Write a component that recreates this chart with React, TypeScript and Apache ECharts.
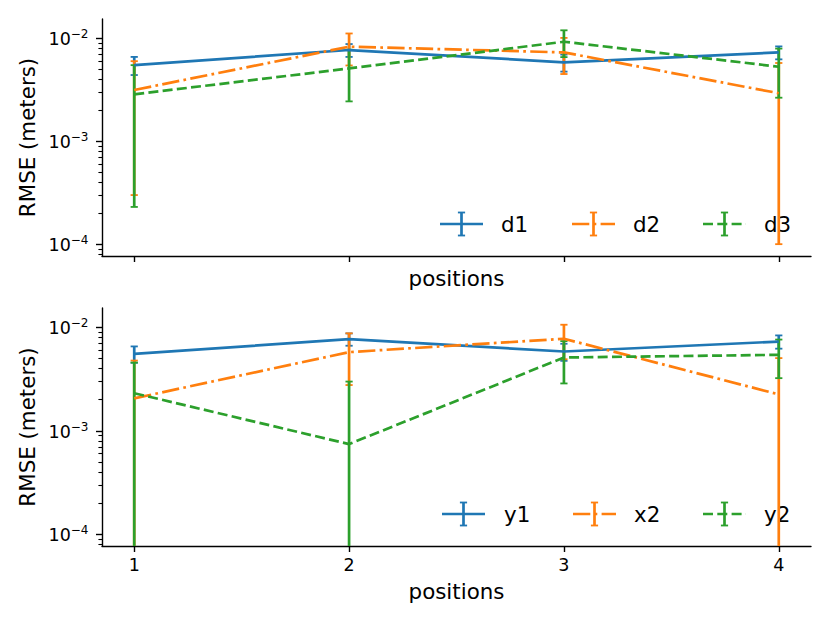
import React, { useEffect, useRef } from 'react';
import * as echarts from 'echarts';

// ---------------- data ----------------
const POSITIONS = [1, 2, 3, 4];

const TOP_NAMES = ['d1', 'd2', 'd3'];
const D1 = [5.5e-3, 7.7e-3, 5.85e-3, 7.3e-3];
const D1_ERR = [1.1e-3, 1.1e-3, 1.1e-3, 1.05e-3];
const D2 = [3.15e-3, 8.3e-3, 7.3e-3, 2.93e-3];
const D2_ERR = [2.85e-3, 2.85e-3, 2.8e-3, 2.83e-3];
const D3 = [2.86e-3, 5.1e-3, 9.27e-3, 5.3e-3];
const D3_ERR = [2.63e-3, 2.66e-3, 2.7e-3, 2.65e-3];

const BOTTOM_NAMES = ['y1', 'x2', 'y2'];
const Y1 = [5.55e-3, 7.7e-3, 5.85e-3, 7.3e-3];
const Y1_ERR = [1.0e-3, 1.05e-3, 1.1e-3, 1.07e-3];
const X2 = [2.06e-3, 5.77e-3, 7.77e-3, 2.25e-3];
const X2_ERR = [2.72e-3, 3.0e-3, 2.85e-3, 2.8e-3];
const Y2 = [2.31e-3, 7.43e-4, 5.12e-3, 5.43e-3];
const Y2_ERR = [2.26e-3, 2.25e-3, 2.25e-3, 2.2e-3];

const MAJOR_TICKS = [1e-4, 1e-3, 1e-2];
const MINOR_TICKS = [
  8e-5, 9e-5,
  2e-4, 3e-4, 4e-4, 5e-4, 6e-4, 7e-4, 8e-4, 9e-4,
  2e-3, 3e-3, 4e-3, 5e-3, 6e-3, 7e-3, 8e-3, 9e-3,
];

const X_TITLE = 'positions';
const Y_TITLE = 'RMSE (meters)';

// ---------------- styles ----------------
const COLORS = ['#1f77b4', '#ff7f0e', '#2ca02c'];
const DASHES: any[] = ['solid', [17.3, 4.3, 2.7, 4.3], [10, 4.3]];
const FONT = 'DejaVu Sans';
const Y_MIN = Math.pow(10, -4.115);
const Y_MAX = Math.pow(10, -1.812);
const LW = 2.7;
const CAP_HALF = 3.6;
const CAP_W = 1.8;

const fmtPow = (v: number) => {
  const e = Math.round(Math.log10(v));
  const s = e < 0 ? '\u2212' + String(-e) : String(e);
  return '{b|10}{s|' + s + '}';
};

const PANELS = [
  { names: TOP_NAMES, vals: [D1, D2, D3], errs: [D1_ERR, D2_ERR, D3_ERR] },
  { names: BOTTOM_NAMES, vals: [Y1, X2, Y2], errs: [Y1_ERR, X2_ERR, Y2_ERR] },
];

const GRIDS = [
  { left: 102, top: 19, width: 709, height: 237 },
  { left: 102, top: 308, width: 709, height: 238 },
];

// legend layout (pixel positions of each entry)
const LEGEND_LAYOUT = [
  { y: 224, lineX: [440, 572, 703], textX: [501, 633, 764] },
  { y: 514, lineX: [442, 573, 703], textX: [504, 634, 764] },
];
const HANDLE_LEN = 43;

function errRender(color: string) {
  return (params: any, api: any) => {
    const x = api.value(0);
    const lo = api.value(1);
    const hi = api.value(2);
    const hasLoCap = api.value(3) > 0;
    const pLo = api.coord([x, lo]);
    const pHi = api.coord([x, hi]);
    const children: any[] = [
      { type: 'line', shape: { x1: pLo[0], y1: pLo[1], x2: pHi[0], y2: pHi[1] }, style: { stroke: color, lineWidth: LW } },
      { type: 'line', shape: { x1: pHi[0] - CAP_HALF, y1: pHi[1], x2: pHi[0] + CAP_HALF, y2: pHi[1] }, style: { stroke: color, lineWidth: CAP_W } },
    ];
    if (hasLoCap) {
      children.push({ type: 'line', shape: { x1: pLo[0] - CAP_HALF, y1: pLo[1], x2: pLo[0] + CAP_HALF, y2: pLo[1] }, style: { stroke: color, lineWidth: CAP_W } });
    }
    return { type: 'group', children };
  };
}

function buildOption() {
  const axisLineStyle = { color: '#000', width: 1.4 };
  const xAxis = GRIDS.map((_, i) => ({
    type: 'value',
    gridIndex: i,
    min: 0.85,
    max: 4.15,
    axisLine: { show: true, onZero: false, lineStyle: axisLineStyle },
    axisTick: { show: true, length: 6, lineStyle: axisLineStyle, customValues: POSITIONS },
    axisLabel: { show: i === 1, customValues: POSITIONS, margin: 10, color: '#000', fontSize: 17.5, fontFamily: FONT },
    splitLine: { show: false },
    name: X_TITLE,
    nameLocation: 'middle',
    nameGap: i === 0 ? 12 : 35,
    nameTextStyle: { fontSize: 21.4, color: '#000', fontFamily: FONT },
  }));
  const yAxis: any[] = [];
  GRIDS.forEach((_, i) => {
    yAxis.push({
      type: 'log',
      logBase: 10,
      gridIndex: i,
      position: 'left',
      min: Y_MIN,
      max: Y_MAX,
      axisLine: { show: true, lineStyle: axisLineStyle },
      axisTick: { show: true, length: 6, lineStyle: axisLineStyle, customValues: MAJOR_TICKS },
      axisLabel: {
        customValues: MAJOR_TICKS,
        formatter: fmtPow,
        margin: 13.5,
        color: '#000',
        fontFamily: FONT,
        rich: {
          b: { fontSize: 17.5, lineHeight: 20, verticalAlign: 'bottom', color: '#000', fontFamily: FONT },
          s: { fontSize: 12, lineHeight: 13.4, verticalAlign: 'top', color: '#000', fontFamily: FONT },
        },
      },
      splitLine: { show: false },
      name: Y_TITLE,
      nameLocation: 'middle',
      nameRotate: 90,
      nameGap: 63,
      nameTextStyle: { fontSize: 21.4, color: '#000', fontFamily: FONT },
    });
    yAxis.push({
      type: 'log',
      logBase: 10,
      gridIndex: i,
      position: 'left',
      offset: 0,
      min: Y_MIN,
      max: Y_MAX,
      axisLine: { show: false },
      axisTick: { show: true, length: 3.6, lineStyle: { color: '#000', width: 1.1 }, customValues: MINOR_TICKS },
      axisLabel: { show: false },
      splitLine: { show: false },
    });
  });

  const series: any[] = [];
  PANELS.forEach((panel, p) => {
    panel.names.forEach((name, k) => {
      const vals = panel.vals[k];
      const errs = panel.errs[k];
      series.push({
        type: 'line',
        name,
        xAxisIndex: p,
        yAxisIndex: 2 * p,
        data: POSITIONS.map((x, j) => [x, vals[j]]),
        symbol: 'none',
        silent: true,
        lineStyle: { color: COLORS[k], width: LW, type: DASHES[k], cap: 'butt' },
      });
      series.push({
        type: 'custom',
        name: name + '-err',
        xAxisIndex: p,
        yAxisIndex: 2 * p,
        clip: true,
        silent: true,
        encode: { x: 0, y: [1, 2] },
        data: POSITIONS.map((x, j) => {
          const lo = vals[j] - errs[j];
          return [x, lo > 0 ? lo : Y_MIN / 100, vals[j] + errs[j], lo > 0 ? 1 : 0];
        }),
        renderItem: errRender(COLORS[k]),
      });
    });
  });

  const graphic: any[] = [];
  LEGEND_LAYOUT.forEach((lay, p) => {
    PANELS[p].names.forEach((name, k) => {
      const x0 = lay.lineX[k];
      const cx = x0 + HANDLE_LEN / 2;
      const y = lay.y;
      graphic.push({
        type: 'line',
        shape: { x1: x0, y1: y, x2: x0 + HANDLE_LEN, y2: y },
        style: { stroke: COLORS[k], lineWidth: LW, lineDash: DASHES[k] === 'solid' ? null : DASHES[k] },
        silent: true,
      });
      graphic.push({ type: 'line', shape: { x1: cx, y1: y - 11.5, x2: cx, y2: y + 11.5 }, style: { stroke: COLORS[k], lineWidth: LW }, silent: true });
      graphic.push({ type: 'line', shape: { x1: cx - CAP_HALF, y1: y - 11.5, x2: cx + CAP_HALF, y2: y - 11.5 }, style: { stroke: COLORS[k], lineWidth: CAP_W }, silent: true });
      graphic.push({ type: 'line', shape: { x1: cx - CAP_HALF, y1: y + 11.5, x2: cx + CAP_HALF, y2: y + 11.5 }, style: { stroke: COLORS[k], lineWidth: CAP_W }, silent: true });
      graphic.push({
        type: 'text',
        x: lay.textX[k],
        y,
        silent: true,
        style: {
          text: name,
          fill: '#000',
          fontSize: 21.4,
          fontFamily: FONT,
          textAlign: 'left',
          textVerticalAlign: 'middle',
          align: 'left',
          verticalAlign: 'middle',
        },
      });
    });
  });

  return {
    animation: false,
    backgroundColor: '#fff',
    textStyle: { fontFamily: FONT },
    grid: GRIDS.map((g) => ({ ...g, containLabel: false })),
    xAxis,
    yAxis,
    series,
    graphic,
  };
}

export default function App() {
  const ref = useRef<HTMLDivElement>(null);
  useEffect(() => {
    if (!ref.current) return;
    const chart = echarts.init(ref.current, undefined, { renderer: 'svg' });
    chart.setOption(buildOption() as any);
    return () => chart.dispose();
  }, []);
  return (
    <div
      ref={ref}
      style={{ position: 'fixed', left: 0, top: 0, width: 830, height: 623, background: '#fff' }}
    />
  );
}
